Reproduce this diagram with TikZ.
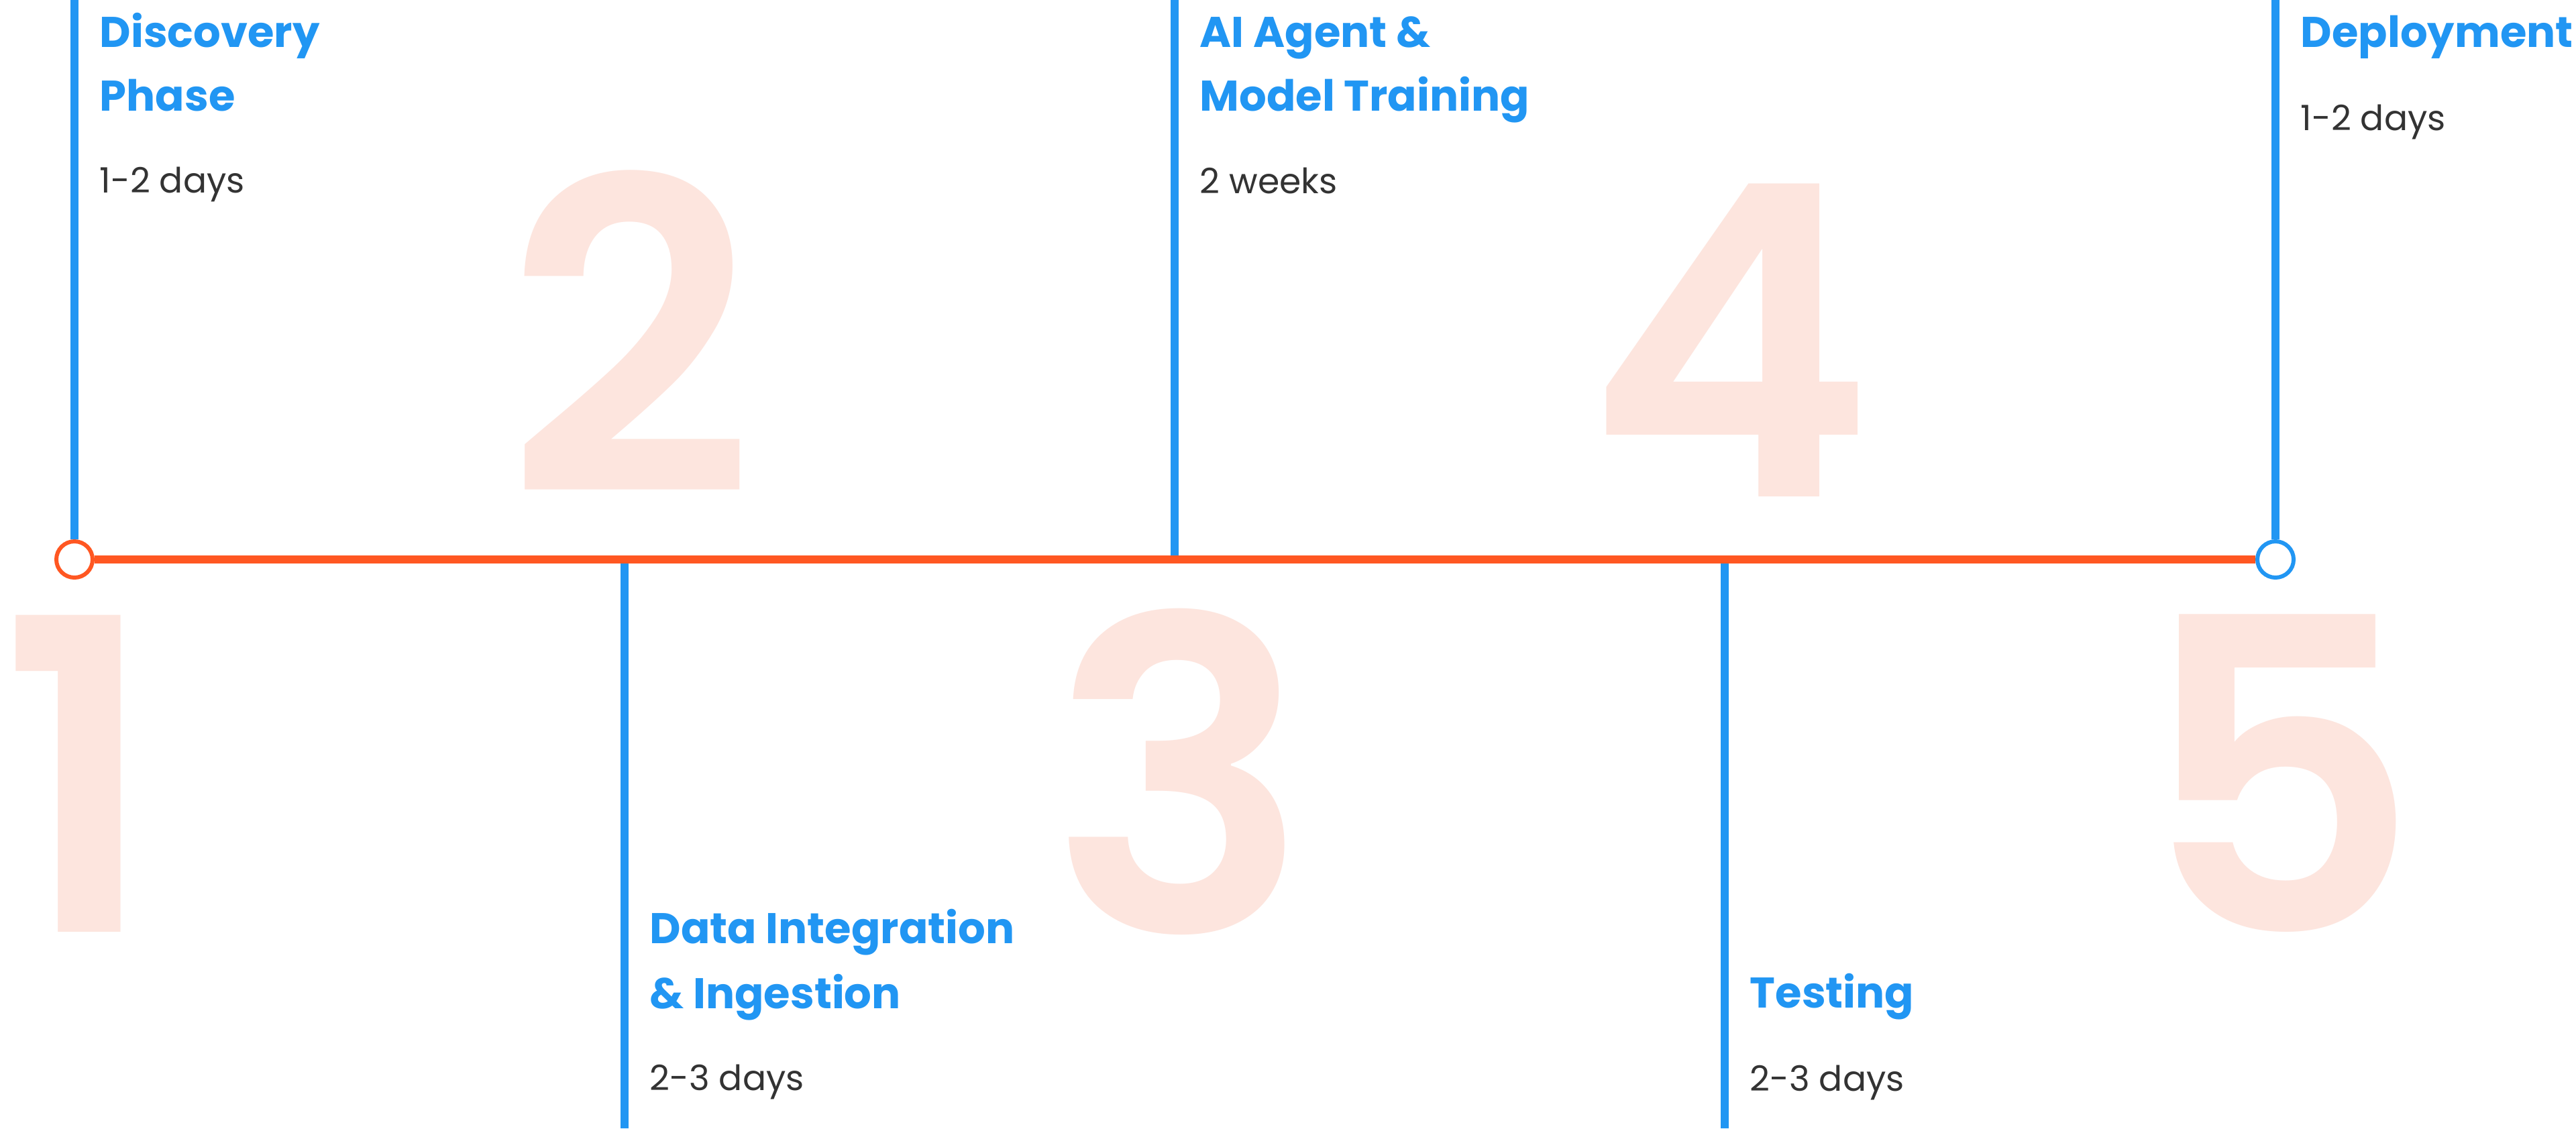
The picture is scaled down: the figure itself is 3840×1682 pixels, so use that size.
\documentclass[tikz,border=0pt]{standalone}
\usepackage{fontspec}
\setmainfont{Poppins}
\newfontfamily\numfont{Poppins SemiBold}
\definecolor{tlblue}{HTML}{2196F3}
\definecolor{tlorange}{HTML}{FF5722}
\definecolor{tlpeach}{HTML}{FDE5DE}
\definecolor{tltext}{HTML}{333333}
\begin{document}
\begin{tikzpicture}[x=0.25pt,y=-0.25pt,
  title/.style={anchor=base west, inner sep=0pt, text=tlblue, font=\fontsize{16}{24}\selectfont\bfseries},
  dur/.style={anchor=base west, inner sep=0pt, text=tltext, font=\fontsize{13}{20}\selectfont},
  bignum/.style={anchor=base, inner sep=0pt, text=tlpeach, font=\fontsize{162}{190}\numfont},
  stem/.style={draw=tlblue, line width=3.1pt},
  axis/.style={draw=tlorange, line width=3.1pt},
  dot/.style={circle, fill=white, line width=1.5pt, minimum size=13.5pt, inner sep=0pt}]
\useasboundingbox[fill=white] (0,0) rectangle (3840,1682);

% big background numbers
\node[bignum] (n1) at (118,1389) {\makebox[0pt]{1}};
\node[bignum] (n2) at (939,736) {2};
\node[bignum] (n3) at (1759,1390) {3};
\node[bignum] (n4) at (2579,740) {4};
\node[bignum] (n5) at (3398,1389) {5};

% coordinates
\coordinate (t1) at (111,0);
\coordinate (t3) at (1751,0);
\coordinate (t5) at (3392,0);
\coordinate (j2) at (931,834);
\coordinate (j3) at (1751,834);
\coordinate (j4) at (2571,834);
\coordinate (b2) at (931,1682);
\coordinate (b4) at (2571,1682);

% circles
\node[dot, draw=tlorange] (c1) at (111,834) {};
\node[dot, draw=tlblue] (c5) at (3392,834) {};

% stems
\draw[stem] (t1) -- (c1.north);
\draw[stem] (t3) -- (j3);
\draw[stem] (t5) -- (c5.north);
\draw[stem] (j2) -- (b2);
\draw[stem] (j4) -- (b4);

% timeline
\draw[axis] (c1.east) -- (c5.west);

% labels
\node[title] (l1a) at (148,70) {Discovery};
\node[title] (l1b) at (148,165) {Phase};
\node[dur]   (l1c) at (148,287) {1-2 days};

\node[title] (l2a) at (968,1406) {Data Integration};
\node[title] (l2b) at (968,1503) {\& Ingestion};
\node[dur]   (l2c) at (968,1625) {2-3 days};

\node[title] (l3a) at (1788,70) {AI Agent \&};
\node[title] (l3b) at (1788,165) {Model Training};
\node[dur]   (l3c) at (1788,288) {2 weeks};

\node[title] (l4a) at (2608,1502) {Testing};
\node[dur]   (l4b) at (2608,1626) {2-3 days};

\node[title] (l5a) at (3429,70) {Deployment};
\node[dur]   (l5b) at (3429,194) {1-2 days};
\end{tikzpicture}
\end{document}
